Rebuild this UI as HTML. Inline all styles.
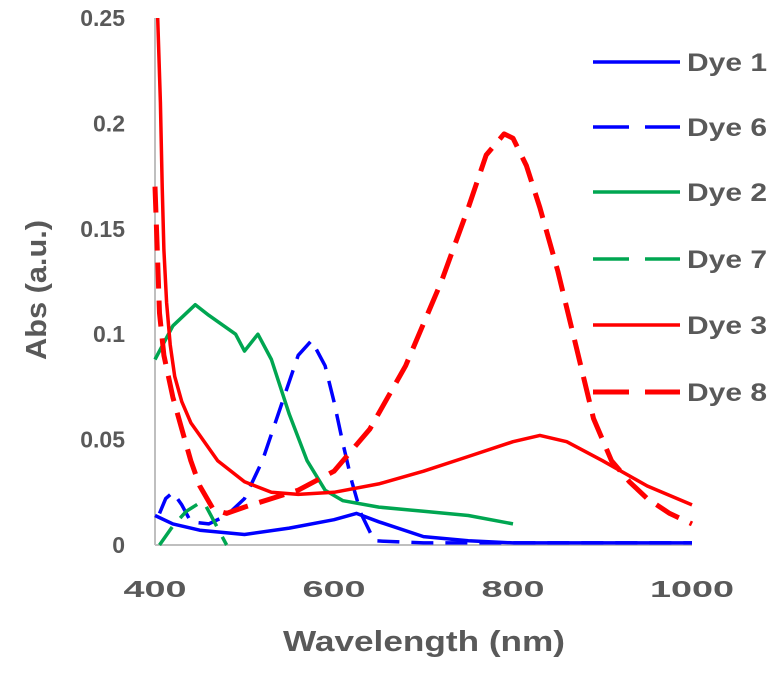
<!DOCTYPE html>
<html><head><meta charset="utf-8"><style>
body{margin:0;background:#fff;}
text{font-family:"Liberation Sans",sans-serif;font-weight:bold;fill:#595959;}
</style></head><body>
<svg id="chart" width="774" height="675" viewBox="0 0 774 675" xmlns="http://www.w3.org/2000/svg">
<g id="axes"></g><g id="series"></g><g id="legend"></g>
</svg>
<script>
const xTicks=[400,600,800,1000];
const yTicks=[0,0.05,0.1,0.15,0.2,0.25];
const yTickLabels=["0","0.05","0.1","0.15","0.2","0.25"];
const seriesNames=["Dye 1","Dye 6","Dye 2","Dye 7","Dye 3","Dye 8"];
const dye1X=[400,420,450,500,550,600,625,650,700,750,800,900,1000];
const dye1Y=[0.014,0.01,0.007,0.005,0.008,0.012,0.015,0.011,0.004,0.002,0.001,0.001,0.001];
const dye6X=[405,412,420,430,440,460,480,500,520,540,560,575,590,600,610,620,630,645,700,800,1000];
const dye6Y=[0.015,0.022,0.025,0.019,0.011,0.01,0.014,0.022,0.04,0.065,0.09,0.097,0.085,0.068,0.048,0.03,0.015,0.002,0.001,0.001,0.001];
const dye2X=[400,420,445,460,470,490,500,515,530,550,570,590,610,650,700,750,800];
const dye2Y=[0.088,0.104,0.114,0.109,0.106,0.1,0.092,0.1,0.088,0.062,0.04,0.026,0.021,0.018,0.016,0.014,0.01];
const dye7X=[405,420,435,450,455,465,480];
const dye7Y=[0,0.009,0.016,0.02,0.02,0.012,0];
const dye3X=[403,406,408,410,413,417,422,430,440,450,470,500,530,560,600,650,700,750,800,830,860,900,950,1000];
const dye3Y=[0.25,0.21,0.17,0.14,0.115,0.095,0.08,0.068,0.058,0.052,0.04,0.03,0.025,0.024,0.025,0.029,0.035,0.042,0.049,0.052,0.049,0.04,0.028,0.019];
const dye8X=[400,405,410,420,430,440,450,465,480,500,530,560,600,640,680,720,750,770,790,800,815,830,850,870,890,910,930,950,975,1000];
const dye8Y=[0.17,0.11,0.09,0.07,0.055,0.04,0.028,0.017,0.015,0.018,0.022,0.026,0.035,0.055,0.085,0.125,0.16,0.185,0.195,0.193,0.18,0.16,0.13,0.095,0.06,0.04,0.03,0.022,0.015,0.01];
const sx=v=>155+(v-400)*(537/600);
const sy=v=>545-v*2108;
const NS="http://www.w3.org/2000/svg";
function mk(t,a,p){const e=document.createElementNS(NS,t);for(const k in a)e.setAttribute(k,a[k]);p.appendChild(e);return e;}
const ax=document.getElementById('axes');
let l=mk('line',{x1:155,y1:18,x2:155,y2:545,stroke:'#bfbfbf','stroke-width':2},ax);


l=mk('line',{x1:155,y1:545,x2:692,y2:545,stroke:'#bfbfbf','stroke-width':2},ax);


xTicks.forEach(v=>{const s=String(v);const t=mk('text',{x:sx(v),y:597,'text-anchor':'middle','font-size':23,textLength:s.length*21,lengthAdjust:'spacingAndGlyphs'},ax);t.textContent=s;

});
yTicks.forEach((v,i)=>{const t=mk('text',{x:125,y:sy(v)+8,'text-anchor':'end','font-size':23},ax);t.textContent=yTickLabels[i];

});
let t=mk('text',{x:424,y:651,'text-anchor':'middle','font-size':29,textLength:282,lengthAdjust:'spacingAndGlyphs'},ax);t.textContent='Wavelength (nm)';


t=mk('text',{x:0,y:0,'text-anchor':'middle','font-size':29,textLength:140,lengthAdjust:'spacingAndGlyphs',transform:'translate(46,290) rotate(-90)'},ax);t.textContent='Abs (a.u.)';


const styles=[
 {xs:dye1X,ys:dye1Y,c:'#0000ff',d:'',w:3.5},
 {xs:dye6X,ys:dye6Y,c:'#0000ff',d:'22 12',w:3.5},
 {xs:dye2X,ys:dye2Y,c:'#00a651',d:'',w:3.5},
 {xs:dye7X,ys:dye7Y,c:'#00a651',d:'22 12',w:3.5},
 {xs:dye3X,ys:dye3Y,c:'#ff0000',d:'',w:3.5},
 {xs:dye8X,ys:dye8Y,c:'#ff0000',d:'26 12',w:5}];
const sg=document.getElementById('series'),lg=document.getElementById('legend');
const rows=[62,127,192,259,325,392];
styles.forEach((s,i)=>{
 const d=s.xs.map((x,j)=>(j?'L':'M')+sx(x).toFixed(1)+','+sy(s.ys[j]).toFixed(1)).join('');
 const p=mk('path',{d:d,fill:'none',stroke:s.c,'stroke-width':s.w,'stroke-dasharray':s.d,'stroke-linejoin':'round'},sg);
 
 
 const ll=mk('line',{x1:593,y1:rows[i],x2:680,y2:rows[i],stroke:s.c,'stroke-width':s.w,'stroke-dasharray':s.d?'36 16':''},lg);
 
 
 const lt=mk('text',{x:687,y:rows[i]+9,'font-size':25,textLength:80,lengthAdjust:'spacingAndGlyphs'},lg);lt.textContent=seriesNames[i];
 
 
});
</script>
</body></html>
